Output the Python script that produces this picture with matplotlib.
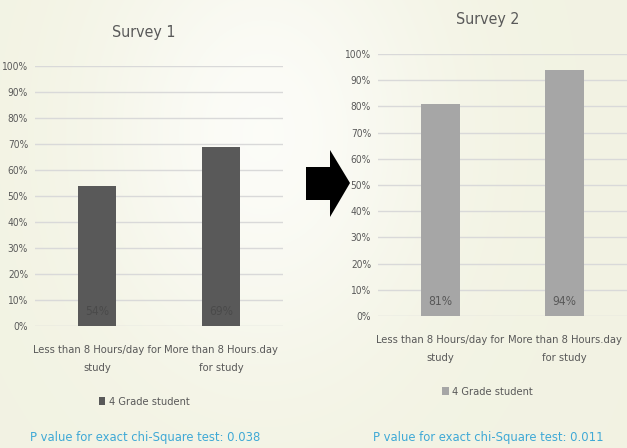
import numpy as np
import matplotlib
matplotlib.use("Agg")
import matplotlib.pyplot as plt
from matplotlib.patches import Polygon
from matplotlib import font_manager as fm

# data
categories = ["Less than 8 Hours/day for\nstudy", "More than 8 Hours.day\nfor study"]
survey1 = [0.54, 0.69]
survey2 = [0.81, 0.94]
series_name = "4 Grade student"
p_values = ["0.038", "0.011"]
yticks = np.arange(0, 1.01, 0.1)

# narrow font if the box has one, else plain DejaVu a bit smaller
plt.rcParams["font.family"] = ["DejaVu Sans"]
plt.rcParams["font.stretch"] = "condensed"
path = fm.findfont(fm.FontProperties(family="DejaVu Sans", stretch="condensed"))
k = 1.2 if "Condensed" in path else 1.0
TXT = "#595959"

fig = plt.figure(figsize=(6.27, 4.48), dpi=100)

# soft cream background like the slide, whiter in the upper middle
bg = fig.add_axes([0, 0, 1, 1], zorder=-10)
X, Y = np.meshgrid(np.linspace(0, 1, 300), np.linspace(0, 1, 200))  # Y=0 is top row
w = np.clip(1 - 0.8 * np.exp(-((X - 0.42) ** 2) / 0.07 - ((Y - 0.3) ** 2) / 0.25), 0, 1)
cream = np.array([0.950, 0.952, 0.890])
white = np.array([0.998, 0.998, 0.992])
img = white[None, None, :] * (1 - w[..., None]) + cream[None, None, :] * w[..., None]
bg.imshow(img, aspect="auto", extent=[0, 1, 0, 1], interpolation="bilinear")
bg.axis("off")


def draw_survey(rect, values, color, title, label_color, pval, title_y, leg_y, p_y):
    ax = fig.add_axes(rect)
    ax.set_facecolor("none")
    x = np.arange(len(categories))
    bars = ax.bar(x, values, width=0.31, color=color, label=series_name, zorder=3)
    ax.set_xlim(-0.5, 1.5)
    ax.set_ylim(0, 1.0)
    ax.set_yticks(yticks)
    ax.set_yticklabels([f"{int(round(t * 100))}%" for t in yticks])
    ax.yaxis.grid(True, color="#d9d9d9", lw=1, zorder=0)
    ax.set_xticks(x)
    ax.set_xticklabels(categories, fontsize=6.7 * k, color=TXT, linespacing=1.95)
    ax.tick_params(axis="y", length=0, labelsize=6.1 * k, labelcolor=TXT, pad=5)
    ax.tick_params(axis="x", length=0, pad=14)
    for s in ax.spines.values():
        s.set_visible(False)
    for b, v in zip(bars, values):
        ax.text(b.get_x() + b.get_width() / 2, 0.055, f"{int(round(v * 100))}%",
                ha="center", va="center", fontsize=7.2 * k, color=label_color, zorder=4)
    ax.text(0.44, title_y, title, transform=ax.transAxes, ha="center", va="center",
            fontsize=9.5 * k, color=TXT)
    ax.legend(loc="center", bbox_to_anchor=(0.44, leg_y), frameon=False,
              handlelength=0.6, handleheight=0.8, handletextpad=0.3,
              fontsize=6.6 * k, labelcolor=TXT)
    ax.text(0.445, p_y, f"P value for exact chi-Square test: {pval}",
            transform=ax.transAxes, ha="center", va="center",
            fontsize=7.7 * k, color="#3fa9d6")
    return ax


draw_survey([35 / 627, 1 - 326 / 448, 248 / 627, 260 / 448], survey1, "#595959",
            "Survey 1", "#4a4a4a", p_values[0], 1.127, -0.292, -0.427)
draw_survey([378 / 627, 1 - 316 / 448, 249 / 627, 262 / 448], survey2, "#a6a6a6",
            "Survey 2", "#595959", p_values[1], 1.13, -0.29, -0.462)

# block arrow between the two charts
pts = [(306, 167), (330, 167), (330, 150), (350, 183), (330, 217), (330, 200), (306, 200)]
arrow = Polygon([(px / 627, 1 - py / 448) for px, py in pts], closed=True,
                transform=fig.transFigure, facecolor="black", edgecolor="none")
fig.patches.append(arrow)

fig.savefig("out.png", dpi=100)
